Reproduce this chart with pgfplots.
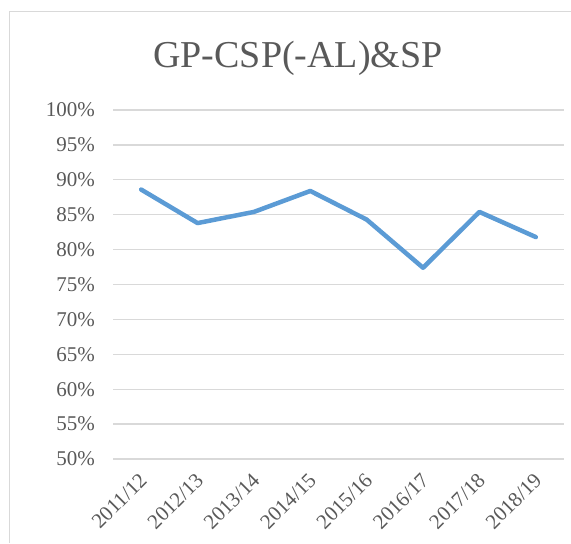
\documentclass[border=0pt]{standalone}
\usepackage{fontspec}
\setmainfont{Liberation Serif}
\usepackage{pgfplots}
\pgfplotsset{compat=1.18}
\definecolor{linecol}{HTML}{5B9BD5}
\definecolor{gridcol}{HTML}{D9D9D9}
\definecolor{txtcol}{HTML}{595959}

\begin{document}
\begin{tikzpicture}
\useasboundingbox (-56.5pt,-42pt) rectangle (229pt,229.5pt);
% chart area frame (cropped on the right and bottom)
\draw[gridcol, line width=0.75pt] (-51.75pt,-42pt) -- (-51.75pt,223.75pt) -- (229pt,223.75pt);
\begin{axis}[
  scale only axis,
  width=225.5pt, height=174.5pt,
  xmin=-0.5, xmax=7.5,
  ymin=50, ymax=100,
  ytick={50,55,...,100},
  xtick={0,...,7},
  xticklabels={2011/12,2012/13,2013/14,2014/15,2015/16,2016/17,2017/18,2018/19},
  yticklabel={\pgfmathprintnumber{\tick}\%},
  /pgf/number format/assume math mode=true,
  axis line style={draw=none},
  axis x line*=bottom,
  tick style={draw=none},
  ymajorgrids,
  grid style={gridcol, line width=0.65pt},
  ticklabel style={font=\fontsize{10.5pt}{12pt}\selectfont, text=txtcol},
  yticklabel style={xshift=-5.5pt},
  xticklabel style={rotate=45, anchor=east, xshift=-2pt, yshift=-7pt},
  clip=false,
]
\addplot[linecol, line width=2.25pt, line cap=round, line join=round] coordinates {
  (0,88.6) (1,83.8) (2,85.4) (3,88.4) (4,84.3) (5,77.4) (6,85.4) (7,81.8)
};
\end{axis}
\node[anchor=base, text=txtcol, font=\fontsize{19pt}{22pt}\selectfont] at (92.5pt,196pt) {GP-CSP(-AL)\&SP};
\end{tikzpicture}
\end{document}
